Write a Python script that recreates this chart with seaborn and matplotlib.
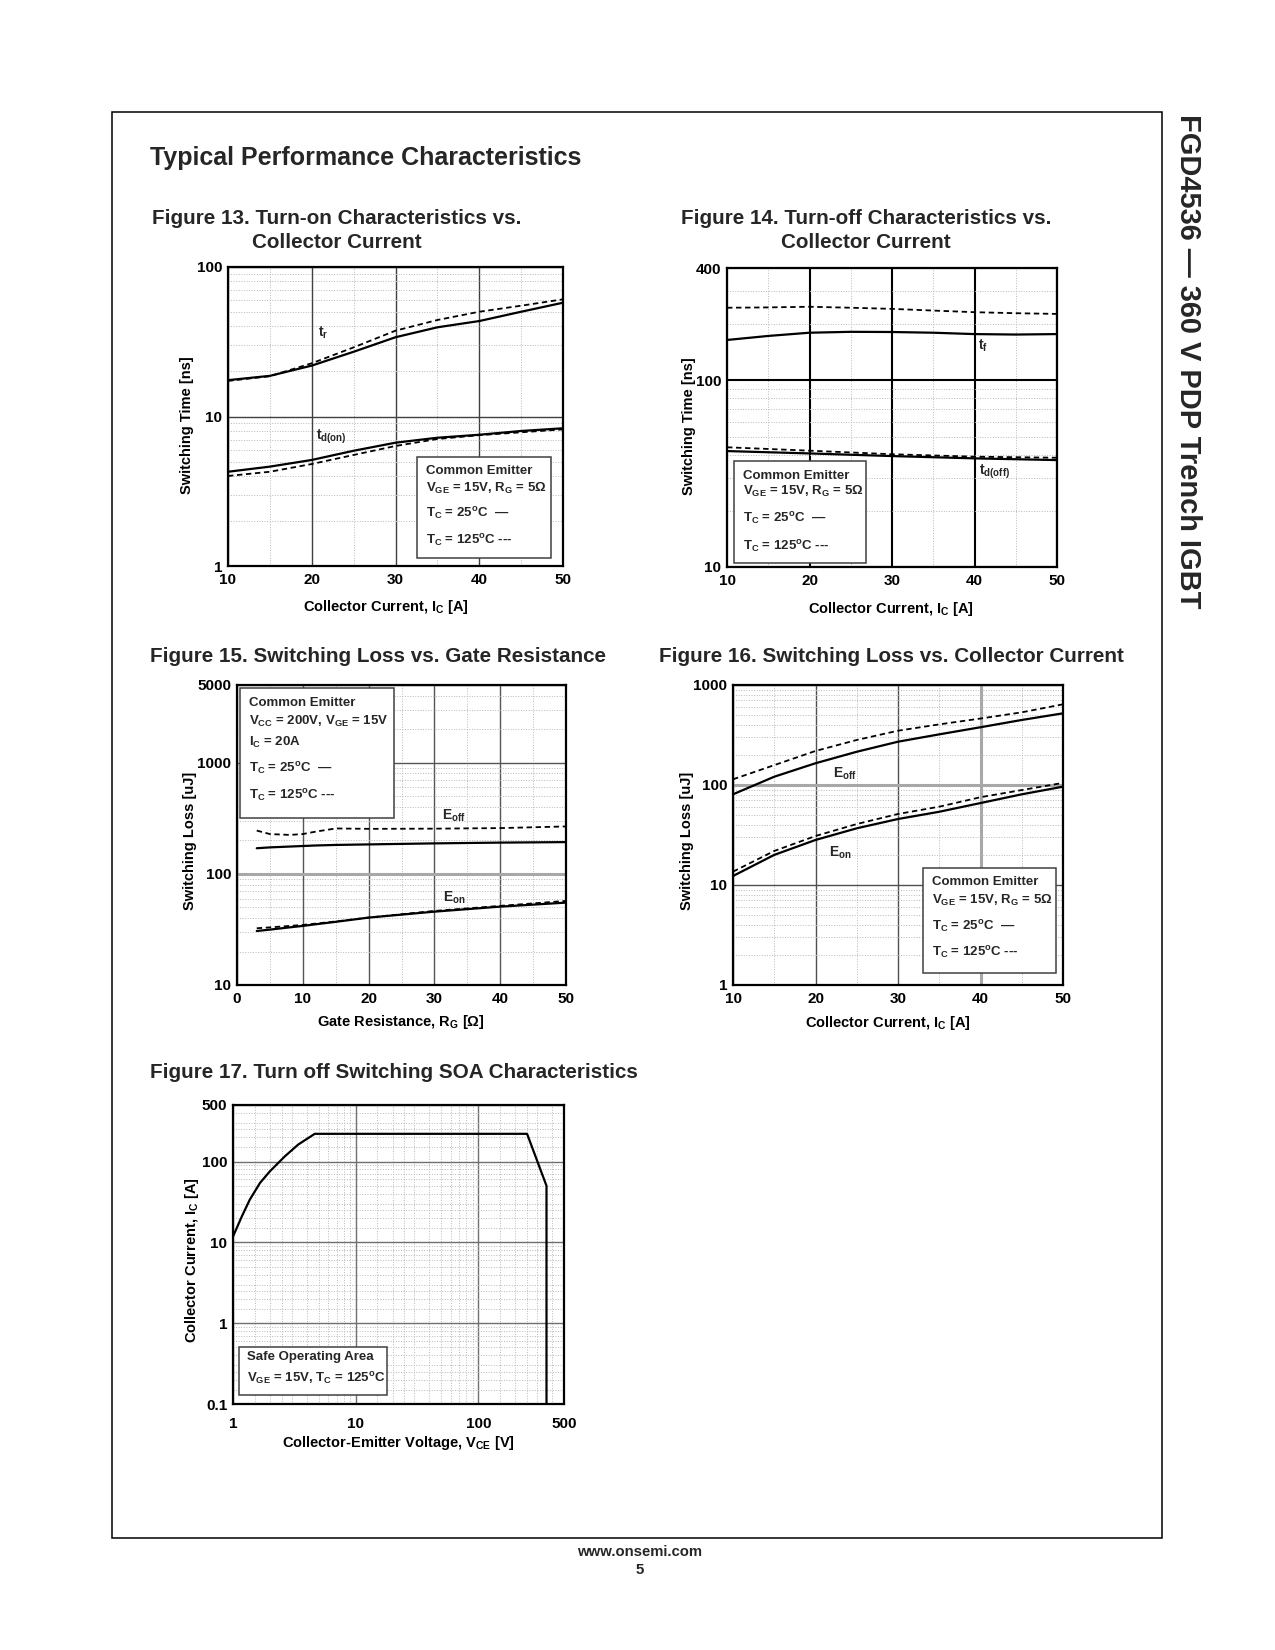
import numpy as np
import pandas as pd
import seaborn as sns
import matplotlib.pyplot as plt
from matplotlib.patches import Rectangle
from matplotlib.ticker import MultipleLocator, LogLocator, NullFormatter

sns.set_theme(style="white")
plt.rcParams['font.family'] = ['Liberation Sans', 'DejaVu Sans']
plt.rcParams['font.weight'] = 'bold'
plt.rcParams['mathtext.fontset'] = 'custom'
plt.rcParams['mathtext.rm'] = 'Liberation Sans:bold'
plt.rcParams['mathtext.bf'] = 'Liberation Sans:bold'
plt.rcParams['mathtext.it'] = 'Liberation Sans:bold'
plt.rcParams['mathtext.sf'] = 'Liberation Sans:bold'
plt.rcParams['mathtext.default'] = 'bf'

W, H = 1275, 1650

# Figure 13 - turn-on times vs collector current
ic = [10, 15, 20, 25, 30, 35, 40, 45, 50]
tr_25 = [17.5, 18.7, 21.9, 27.1, 33.9, 39.5, 43.5, 50.2, 57.7]
tr_125 = [17.3, 18.6, 22.7, 29.0, 37.5, 44.2, 50.2, 55.1, 60.8]
tdon_25 = [4.27, 4.62, 5.12, 5.90, 6.68, 7.21, 7.55, 8.0, 8.34]
tdon_125 = [4.0, 4.27, 4.81, 5.53, 6.35, 7.07, 7.5, 7.84, 8.2]

# Figure 14 - turn-off times vs collector current
tf_25 = [164.6, 173, 180, 182, 181.6, 180, 177, 176, 177]
tf_125 = [245, 246, 248, 245, 241.6, 236.6, 231.9, 229, 227]
ic_coarse = [10, 20, 30, 40, 50]
tdoff_25 = [41.8, 40.6, 39.3, 38.2, 37.4]
tdoff_125 = [43.8, 42.0, 40.2, 39.0, 38.5]

# Figure 15 - switching loss vs gate resistance
rg = [3, 5, 8, 10, 12, 15, 20, 30, 40, 50]
eoff_rg_25 = [170, 173, 176, 178, 180, 182, 184, 188, 191, 193]
eoff_rg_125 = [245, 228, 224, 228, 240, 256, 254, 255, 258, 267]
eon_rg_25 = [30.6, 31.5, 33.0, 34.0, 35.2, 37.0, 40.4, 45.7, 50.7, 55.1]
eon_rg_125 = [32.4, 33.0, 34.0, 34.7, 35.7, 37.3, 40.4, 46.4, 51.5, 57.1]

# Figure 16 - switching loss vs collector current
eoff_ic_25 = [80.7, 121, 165, 215, 271, 321, 378, 447, 521]
eoff_ic_125 = [114, 158, 219, 282, 349, 404, 462, 533, 641]
eon_ic_25 = [12.3, 20, 28.2, 36.9, 45.7, 54, 66, 80.7, 96.2]
eon_ic_125 = [13.6, 21.9, 30.9, 40.7, 51.3, 60.7, 75.5, 89, 105]

# Figure 17 - turn off switching SOA
vce = [1, 1.18, 1.37, 1.66, 2.0, 2.65, 3.4, 4.64, 250, 360, 360]
ic_soa = [11.8, 20.9, 33.7, 54.3, 75.7, 116, 162, 220, 220, 50, 0.1]


fig = plt.figure(figsize=(W / 100, H / 100), dpi=100, facecolor='white')


def fx(x):
    return x / W


def fy(y):
    return 1 - y / H


def make_axes(l, t, r, b):
    return fig.add_axes([fx(l), fy(b), (r - l) / W, (b - t) / H])


def style_axes(ax, xlim, ylim, xticks, yticks, xlabels, ylabels,
               major_color, major_lw, xlog=False, xminor=5, dense=False, xpad=5.3):
    if xlog:
        ax.set_xscale('log')
    ax.set_yscale('log')
    ax.set_xlim(*xlim)
    ax.set_ylim(*ylim)
    ax.set_xticks(xticks)
    ax.set_xticklabels(xlabels)
    ax.set_yticks(yticks)
    ax.set_yticklabels(ylabels)
    subs = [1.5, 2, 2.5, 3, 4, 5, 6, 7, 8, 9] if dense else np.arange(2, 10)
    if xlog:
        ax.xaxis.set_minor_locator(LogLocator(base=10, subs=subs, numticks=20))
    else:
        ax.xaxis.set_minor_locator(MultipleLocator(xminor))
    ax.yaxis.set_minor_locator(LogLocator(base=10, subs=subs, numticks=20))
    ax.xaxis.set_minor_formatter(NullFormatter())
    ax.yaxis.set_minor_formatter(NullFormatter())
    ax.grid(True, which='major', color=major_color, lw=major_lw, ls='-')
    ax.grid(True, which='minor', color='#b8b8b8', lw=0.7, ls=':')
    ax.tick_params(which='both', length=0, labelsize=11, colors='black')
    ax.tick_params(axis='x', pad=xpad)
    ax.tick_params(axis='y', pad=4.2)
    for s in ax.spines.values():
        s.set_color('black')
        s.set_linewidth(1.6)
        s.set_zorder(4)


def curve(ax, x, y, dashed=False):
    if dashed:
        sns.lineplot(x=x, y=y, ax=ax, color='black', lw=1.3, linestyle=(0, (3, 2)),
                     estimator=None, sort=False)
    else:
        sns.lineplot(x=x, y=y, ax=ax, color='black', lw=1.6,
                     estimator=None, sort=False)


def label_axes(ax, xlabel, ylabel, xpos, ypos):
    # xpos: (centre x, centre y); ypos: (centre x, centre y), all in page pixels
    ax.set_xlabel(xlabel, fontsize=10.5, fontweight='bold', color='black')
    ax.set_ylabel(ylabel, fontsize=10.5, fontweight='bold', color='black')
    ax.xaxis.set_label_coords(fx(xpos[0]), fy(xpos[1] - 6.5), transform=fig.transFigure)
    ax.yaxis.set_label_coords(fx(ypos[0] + 9.6), fy(ypos[1]), transform=fig.transFigure)


def note_box(l, t, r, b, lines, x0, ys, edge='#404040'):
    fig.add_artist(Rectangle((fx(l), fy(b)), (r - l) / W, (b - t) / H,
                             transform=fig.transFigure, fc='white', ec=edge,
                             lw=1.1, zorder=5))
    for s, y in zip(lines, ys):
        fig.text(fx(x0), fy(y), s, fontsize=9.5, ha='left', va='center', zorder=6)


def ftext(x, y, s, **kw):
    fig.text(fx(x), fy(y), s, **kw)


legend_25 = r'T$_C$ = 25$^o$C  —'
legend_125 = r'T$_C$ = 125$^o$C ---'
lin_ticks = [10, 20, 30, 40, 50]
lin_labels = ['10', '20', '30', '40', '50']

# ---------------- page decorations ----------------
fig.add_artist(Rectangle((fx(112), fy(1538)), (1162 - 112) / W, (1538 - 112) / H,
                         transform=fig.transFigure, fill=False, ec='black', lw=1.1))
ftext(1188, 361, 'FGD4536 — 360 V PDP Trench IGBT', fontsize=20.9, rotation=-90,
      ha='center', va='center')
ftext(150, 157.5, 'Typical Performance Characteristics', fontsize=18, ha='left', va='center')
ftext(640, 1552, 'www.onsemi.com', fontsize=10.7, ha='center', va='center')
ftext(640, 1569.5, '5', fontsize=10.7, ha='center', va='center')

# ---------------- Figure 13 ----------------
ftext(337, 219, 'Figure 13. Turn-on Characteristics vs.', fontsize=14.9, ha='center', va='center')
ftext(337, 242, 'Collector Current', fontsize=14.9, ha='center', va='center')
ax13 = make_axes(228, 267, 563, 566)
style_axes(ax13, (10, 50), (1, 100), lin_ticks, [1, 10, 100], lin_labels,
           ['1', '10', '100'], '#404040', 1.0)
curve(ax13, ic, tr_25)
curve(ax13, ic, tr_125, dashed=True)
curve(ax13, ic, tdon_25)
curve(ax13, ic, tdon_125, dashed=True)
label_axes(ax13, r'Collector Current, I$_C$ [A]', 'Switching Time [ns]', (386, 604), (184, 425))
ftext(318, 333, r't$_r$', fontsize=10, ha='left', va='center')
ftext(316, 437, r't$_{d(on)}$', fontsize=10, ha='left', va='center')
note_box(417, 457, 551, 558,
         ['Common Emitter', r'V$_{GE}$ = 15V, R$_G$ = 5Ω', legend_25, legend_125],
         426, [471, 488, 514, 541])

# ---------------- Figure 14 ----------------
ftext(866, 219, 'Figure 14. Turn-off Characteristics vs.', fontsize=14.9, ha='center', va='center')
ftext(866, 242, 'Collector Current', fontsize=14.9, ha='center', va='center')
ax14 = make_axes(727, 268, 1057, 567)
style_axes(ax14, (10, 50), (10, 400), lin_ticks, [10, 100, 400], lin_labels,
           ['10', '100', '400'], 'black', 1.5)
curve(ax14, ic, tf_25)
curve(ax14, ic, tf_125, dashed=True)
curve(ax14, ic_coarse, tdoff_25)
curve(ax14, ic_coarse, tdoff_125, dashed=True)
label_axes(ax14, r'Collector Current, I$_C$ [A]', 'Switching Time [ns]', (891, 606), (686, 426))
ftext(978, 346, r't$_f$', fontsize=10, ha='left', va='center')
ftext(979, 472, r't$_{d(off)}$', fontsize=10, ha='left', va='center')
note_box(734, 461, 866, 563,
         ['Common Emitter', r'V$_{GE}$ = 15V, R$_G$ = 5Ω', legend_25, legend_125],
         743, [476, 491, 519, 547])

# ---------------- Figure 15 ----------------
ftext(150, 657, 'Figure 15. Switching Loss vs. Gate Resistance', fontsize=14.9, ha='left', va='center')
ax15 = make_axes(237, 685, 566, 985)
style_axes(ax15, (0, 50), (10, 5000), [0, 10, 20, 30, 40, 50], [10, 100, 1000, 5000],
           ['0', '10', '20', '30', '40', '50'], ['10', '100', '1000', '5000'], '#555555', 1.0)
ax15.get_ygridlines()[1].set(color='#a8a8a8', lw=2.2)
curve(ax15, rg, eoff_rg_25)
curve(ax15, rg, eoff_rg_125, dashed=True)
curve(ax15, rg, eon_rg_25)
curve(ax15, rg, eon_rg_125, dashed=True)
label_axes(ax15, r'Gate Resistance, R$_G$ [Ω]', 'Switching Loss [uJ]', (401, 1019.5), (187, 841))
ftext(442, 816, r'E$_{off}$', fontsize=10, ha='left', va='center')
ftext(443, 898, r'E$_{on}$', fontsize=10, ha='left', va='center')
note_box(240, 688, 394, 818,
         ['Common Emitter', r'V$_{CC}$ = 200V, V$_{GE}$ = 15V', r'I$_C$ = 20A',
          legend_25, legend_125],
         249, [703, 721, 742, 769, 796])

# ---------------- Figure 16 ----------------
ftext(659, 657, 'Figure 16. Switching Loss vs. Collector Current', fontsize=14.9, ha='left', va='center')
ax16 = make_axes(733, 685, 1063, 985)
style_axes(ax16, (10, 50), (1, 1000), lin_ticks, [1, 10, 100, 1000], lin_labels,
           ['1', '10', '100', '1000'], '#505050', 1.0)
ax16.get_ygridlines()[2].set(color='#a8a8a8', lw=2.2)
ax16.get_xgridlines()[3].set(color='#a8a8a8', lw=2.2)
curve(ax16, ic, eoff_ic_25)
curve(ax16, ic, eoff_ic_125, dashed=True)
curve(ax16, ic, eon_ic_25)
curve(ax16, ic, eon_ic_125, dashed=True)
label_axes(ax16, r'Collector Current, I$_C$ [A]', 'Switching Loss [uJ]', (888, 1021), (684, 841))
ftext(833, 774, r'E$_{off}$', fontsize=10, ha='left', va='center')
ftext(829, 853, r'E$_{on}$', fontsize=10, ha='left', va='center')
note_box(923, 868, 1056, 973,
         ['Common Emitter', r'V$_{GE}$ = 15V, R$_G$ = 5Ω', legend_25, legend_125],
         932, [882, 900, 927, 953])

# ---------------- Figure 17 ----------------
ftext(150, 1072, 'Figure 17. Turn off Switching SOA Characteristics', fontsize=14.9, ha='left', va='center')
ax17 = make_axes(233, 1105, 564, 1404)
style_axes(ax17, (1, 500), (0.1, 500), [1, 10, 100, 500], [0.1, 1, 10, 100, 500],
           ['1', '10', '100', '500'], ['0.1', '1', '10', '100', '500'], '#707070', 1.0,
           xlog=True, dense=True, xpad=9)
curve(ax17, vce, ic_soa)
label_axes(ax17, r'Collector-Emitter Voltage, V$_{CE}$ [V]', r'Collector Current, I$_C$ [A]',
           (398, 1440), (191, 1260))
note_box(239, 1347, 387, 1395,
         ['Safe Operating Area', r'V$_{GE}$ = 15V, T$_C$ = 125$^o$C'],
         247, [1357, 1379])

fig.savefig('out.png', dpi=100, facecolor='white')
